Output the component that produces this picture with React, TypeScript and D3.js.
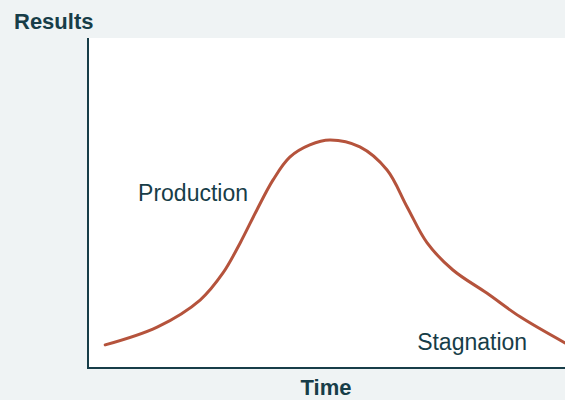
import React, { useEffect } from 'react'
import * as d3 from 'd3'

// time (0-100) and results (0-100)
const TIME = [3.6, 14.5, 23.5, 28.3, 31.9, 35.4, 38.8, 42.3, 46.5, 50.7, 57, 62.7, 66.9, 71.1, 76.5, 83.6, 90.6, 100]
const RESULTS = [7, 12.4, 20.6, 28.8, 37.9, 47.9, 57, 63.9, 67.6, 69.1, 67, 60, 48.8, 37.9, 29.7, 22.7, 15.5, 7.6]

const LABELS = [
  { text: 'Production', t: 10.5, v: 50.5 },
  { text: 'Stagnation', t: 69, v: 5.5 },
]

const W = 565
const H = 400
const margin = { top: 38, right: 0, bottom: 32, left: 88 }
const ink = '#173d48'
const curveColor = '#b5533c'

export default function App() {
  useEffect(() => {
    document.body.style.margin = '0'
  }, [])

  const x = d3.scaleLinear().domain([0, 100]).range([margin.left, W - margin.right])
  const y = d3.scaleLinear().domain([0, 100]).range([H - margin.bottom, margin.top])

  const pts: [number, number][] = TIME.map((t, i) => [t, RESULTS[i]])
  const line = d3.line<[number, number]>()
    .x(d => x(d[0]))
    .y(d => y(d[1]))
    .curve(d3.curveCatmullRom.alpha(0.5))

  const font = '"Liberation Sans", Arial, Helvetica, sans-serif'

  return (
    <svg width={W} height={H} style={{ display: 'block' }} fontFamily={font}>
      <rect x={0} y={0} width={W} height={H} fill="#eff3f4" />
      <rect x={x(0)} y={y(100)} width={x(100) - x(0)} height={y(0) - y(100)} fill="#ffffff" />
      <path d={line(pts) || ''} fill="none" stroke={curveColor} strokeWidth={3} strokeLinecap="round" />
      <line x1={x(0)} x2={x(0)} y1={y(100)} y2={y(0)} stroke={ink} strokeWidth={2} />
      <line x1={x(0) - 1} x2={x(100)} y1={y(0)} y2={y(0)} stroke={ink} strokeWidth={2} />
      {LABELS.map(l => (
        <text key={l.text} x={x(l.t)} y={y(l.v)} fontSize={23} fill={ink}>{l.text}</text>
      ))}
      <text x={14} y={29} fontSize={22} fontWeight="bold" fill={ink}>Results</text>
      <text x={326} y={395} fontSize={22} fontWeight="bold" fill={ink} textAnchor="middle">Time</text>
    </svg>
  )
}
